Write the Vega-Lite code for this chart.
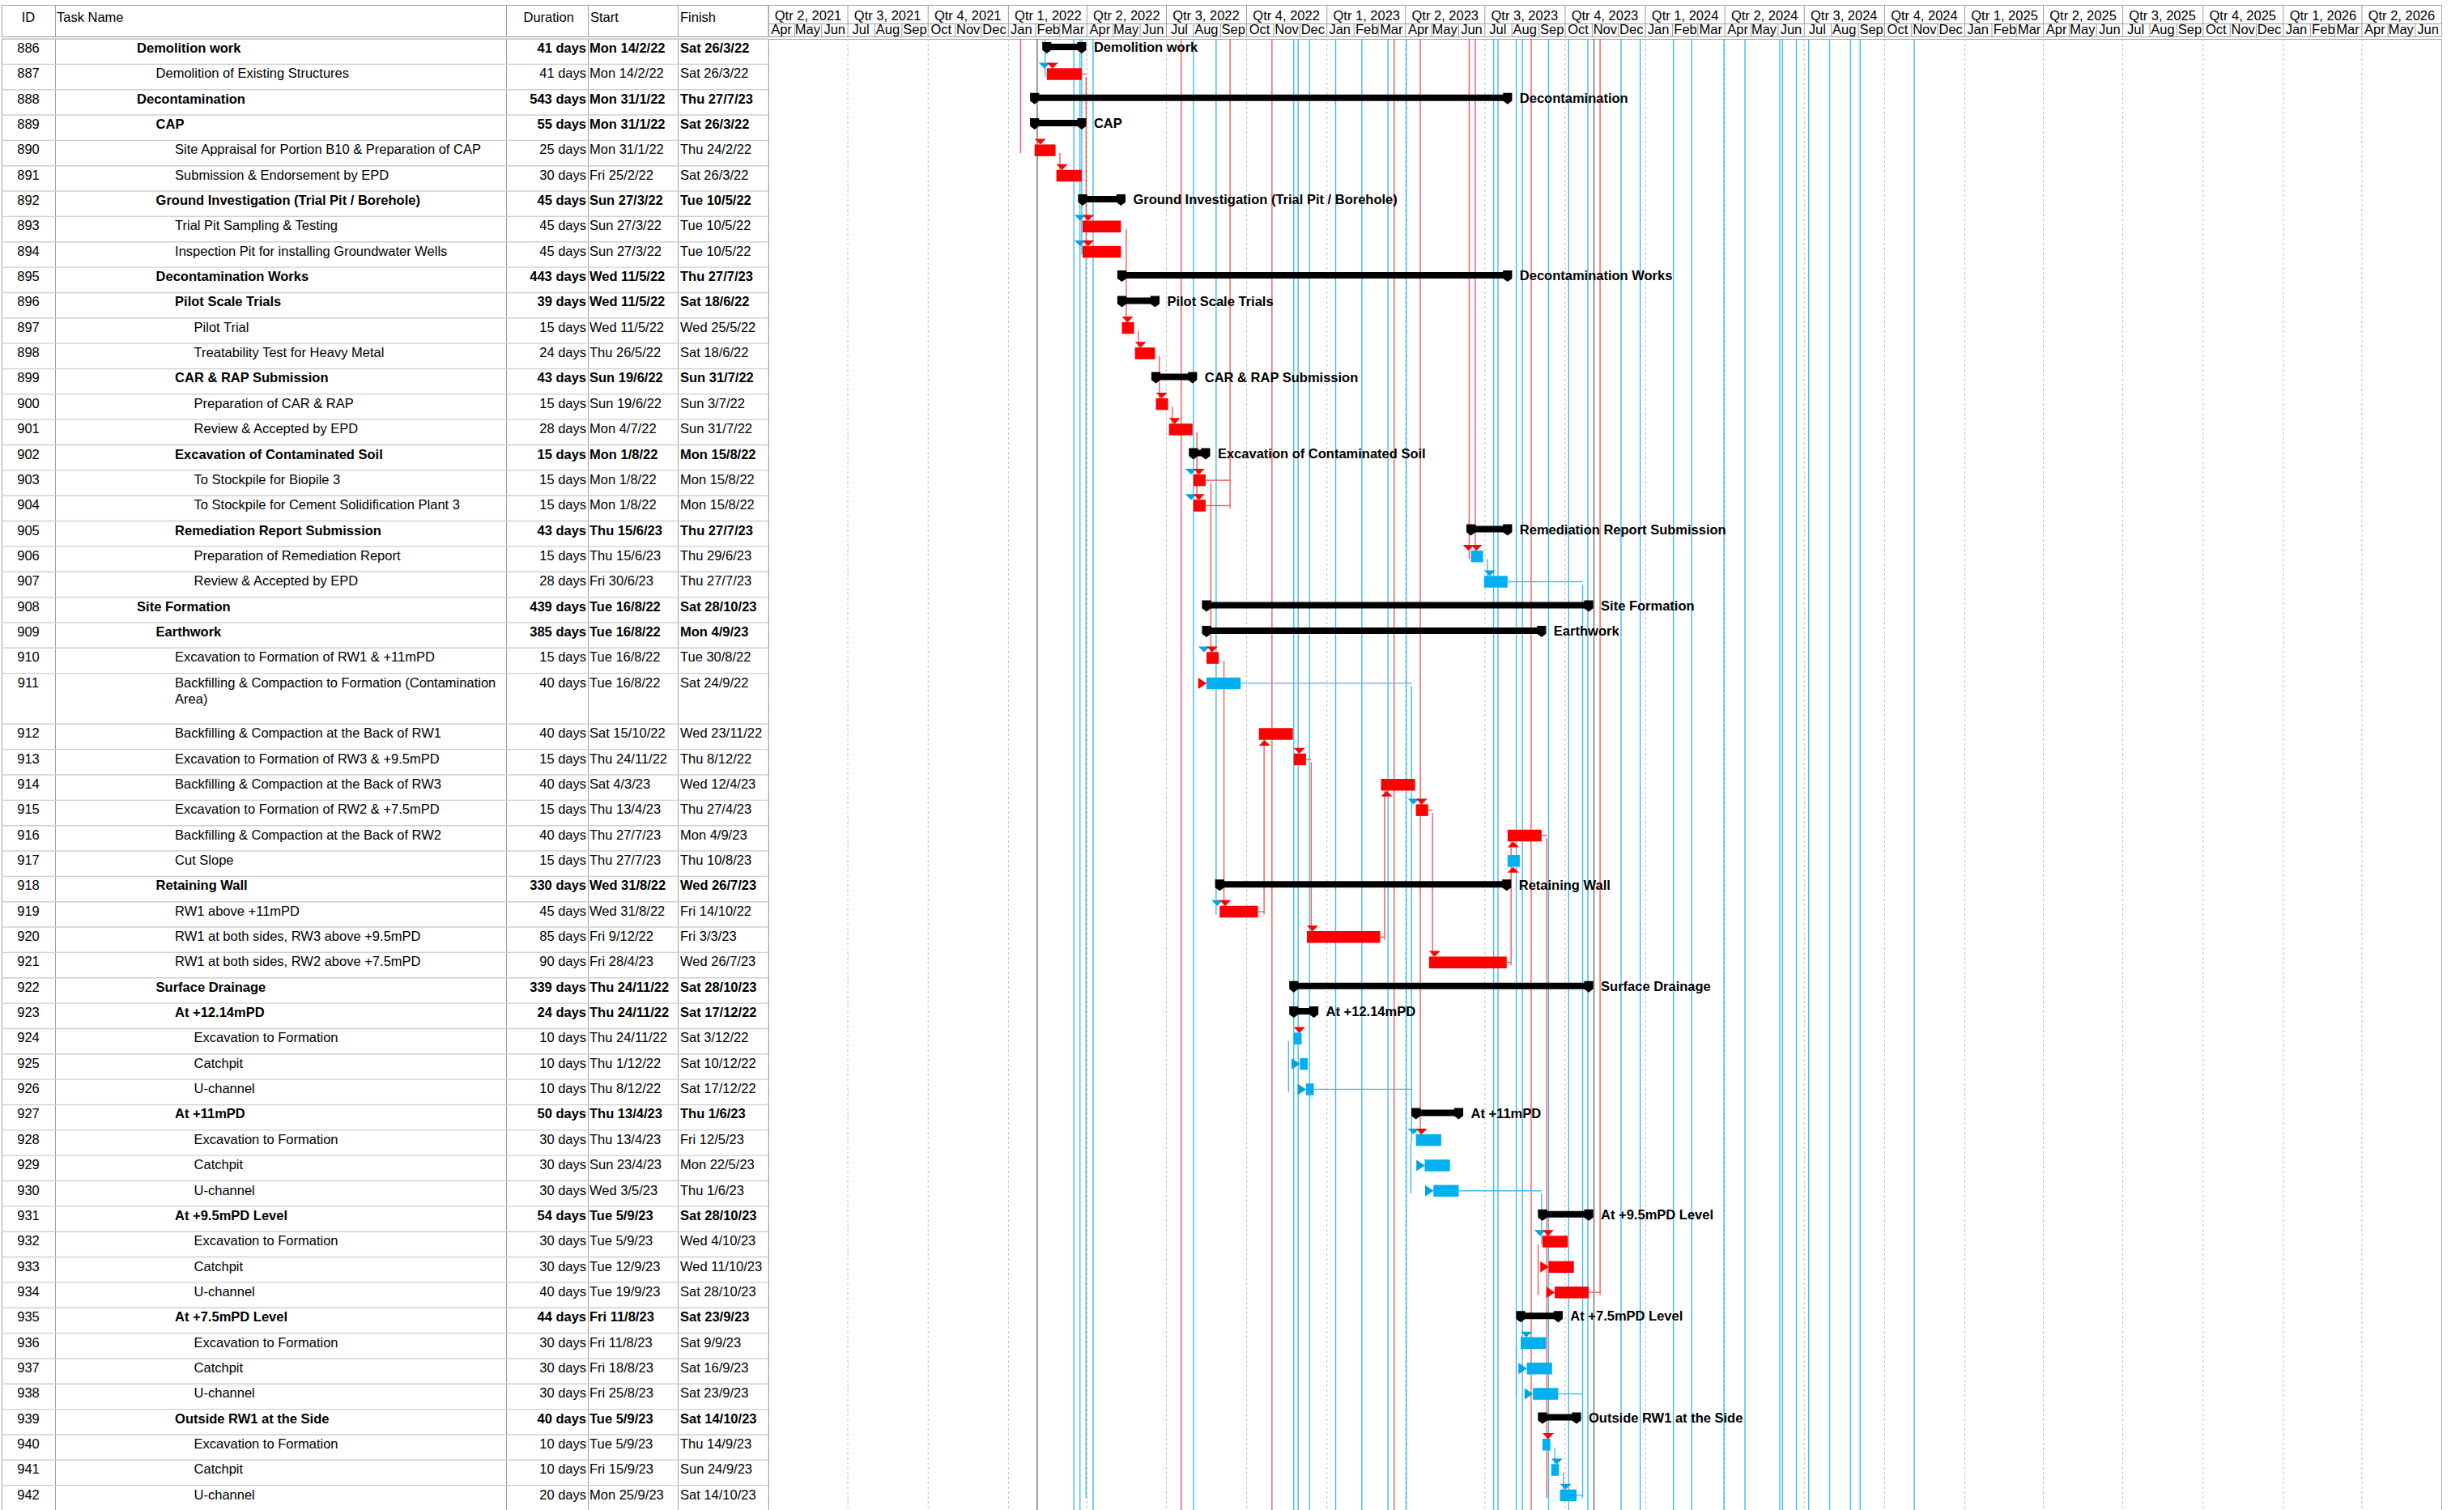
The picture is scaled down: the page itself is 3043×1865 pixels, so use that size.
{
"$schema":"https://vega.github.io/schema/vega-lite/v6.json",
"padding":{"left":0,"top":5,"right":0,"bottom":0},
"background":"#ffffff",
"config":{"view":{"stroke":null},"text":{"font":"Liberation Sans","fontSize":16.5,"color":"#000000"}},
"datasets":{
"tasks":[
{"id":"886","n":"Demolition work","lv":1,"sum":1,"d":"41 days","st":"Mon 14/2/22","ft":"Sat 26/3/22","s":"2022-02-14","f":"2022-03-26","c":"k"},
{"id":"887","n":"Demolition of Existing Structures","lv":2,"sum":0,"d":"41 days","st":"Mon 14/2/22","ft":"Sat 26/3/22","s":"2022-02-14","f":"2022-03-26","c":"r"},
{"id":"888","n":"Decontamination","lv":1,"sum":1,"d":"543 days","st":"Mon 31/1/22","ft":"Thu 27/7/23","s":"2022-01-31","f":"2023-07-27","c":"k"},
{"id":"889","n":"CAP","lv":2,"sum":1,"d":"55 days","st":"Mon 31/1/22","ft":"Sat 26/3/22","s":"2022-01-31","f":"2022-03-26","c":"k"},
{"id":"890","n":"Site Appraisal for Portion B10 & Preparation of CAP","lv":3,"sum":0,"d":"25 days","st":"Mon 31/1/22","ft":"Thu 24/2/22","s":"2022-01-31","f":"2022-02-24","c":"r"},
{"id":"891","n":"Submission & Endorsement by EPD","lv":3,"sum":0,"d":"30 days","st":"Fri 25/2/22","ft":"Sat 26/3/22","s":"2022-02-25","f":"2022-03-26","c":"r"},
{"id":"892","n":"Ground Investigation (Trial Pit / Borehole)","lv":2,"sum":1,"d":"45 days","st":"Sun 27/3/22","ft":"Tue 10/5/22","s":"2022-03-27","f":"2022-05-10","c":"k"},
{"id":"893","n":"Trial Pit Sampling & Testing","lv":3,"sum":0,"d":"45 days","st":"Sun 27/3/22","ft":"Tue 10/5/22","s":"2022-03-27","f":"2022-05-10","c":"r"},
{"id":"894","n":"Inspection Pit for installing Groundwater Wells","lv":3,"sum":0,"d":"45 days","st":"Sun 27/3/22","ft":"Tue 10/5/22","s":"2022-03-27","f":"2022-05-10","c":"r"},
{"id":"895","n":"Decontamination Works","lv":2,"sum":1,"d":"443 days","st":"Wed 11/5/22","ft":"Thu 27/7/23","s":"2022-05-11","f":"2023-07-27","c":"k"},
{"id":"896","n":"Pilot Scale Trials","lv":3,"sum":1,"d":"39 days","st":"Wed 11/5/22","ft":"Sat 18/6/22","s":"2022-05-11","f":"2022-06-18","c":"k"},
{"id":"897","n":"Pilot Trial","lv":4,"sum":0,"d":"15 days","st":"Wed 11/5/22","ft":"Wed 25/5/22","s":"2022-05-11","f":"2022-05-25","c":"r"},
{"id":"898","n":"Treatability Test for Heavy Metal","lv":4,"sum":0,"d":"24 days","st":"Thu 26/5/22","ft":"Sat 18/6/22","s":"2022-05-26","f":"2022-06-18","c":"r"},
{"id":"899","n":"CAR & RAP Submission","lv":3,"sum":1,"d":"43 days","st":"Sun 19/6/22","ft":"Sun 31/7/22","s":"2022-06-19","f":"2022-07-31","c":"k"},
{"id":"900","n":"Preparation of CAR & RAP","lv":4,"sum":0,"d":"15 days","st":"Sun 19/6/22","ft":"Sun 3/7/22","s":"2022-06-19","f":"2022-07-03","c":"r"},
{"id":"901","n":"Review & Accepted by EPD","lv":4,"sum":0,"d":"28 days","st":"Mon 4/7/22","ft":"Sun 31/7/22","s":"2022-07-04","f":"2022-07-31","c":"r"},
{"id":"902","n":"Excavation of Contaminated Soil","lv":3,"sum":1,"d":"15 days","st":"Mon 1/8/22","ft":"Mon 15/8/22","s":"2022-08-01","f":"2022-08-15","c":"k"},
{"id":"903","n":"To Stockpile for Biopile 3","lv":4,"sum":0,"d":"15 days","st":"Mon 1/8/22","ft":"Mon 15/8/22","s":"2022-08-01","f":"2022-08-15","c":"r"},
{"id":"904","n":"To Stockpile for Cement Solidification Plant 3","lv":4,"sum":0,"d":"15 days","st":"Mon 1/8/22","ft":"Mon 15/8/22","s":"2022-08-01","f":"2022-08-15","c":"r"},
{"id":"905","n":"Remediation Report Submission","lv":3,"sum":1,"d":"43 days","st":"Thu 15/6/23","ft":"Thu 27/7/23","s":"2023-06-15","f":"2023-07-27","c":"k"},
{"id":"906","n":"Preparation of Remediation Report","lv":4,"sum":0,"d":"15 days","st":"Thu 15/6/23","ft":"Thu 29/6/23","s":"2023-06-15","f":"2023-06-29","c":"b"},
{"id":"907","n":"Review & Accepted by EPD","lv":4,"sum":0,"d":"28 days","st":"Fri 30/6/23","ft":"Thu 27/7/23","s":"2023-06-30","f":"2023-07-27","c":"b"},
{"id":"908","n":"Site Formation","lv":1,"sum":1,"d":"439 days","st":"Tue 16/8/22","ft":"Sat 28/10/23","s":"2022-08-16","f":"2023-10-28","c":"k"},
{"id":"909","n":"Earthwork","lv":2,"sum":1,"d":"385 days","st":"Tue 16/8/22","ft":"Mon 4/9/23","s":"2022-08-16","f":"2023-09-04","c":"k"},
{"id":"910","n":"Excavation to Formation of RW1 & +11mPD","lv":3,"sum":0,"d":"15 days","st":"Tue 16/8/22","ft":"Tue 30/8/22","s":"2022-08-16","f":"2022-08-30","c":"r"},
{"id":"911","n":"Backfilling & Compaction to Formation (Contamination\nArea)","lv":3,"sum":0,"d":"40 days","st":"Tue 16/8/22","ft":"Sat 24/9/22","s":"2022-08-16","f":"2022-09-24","c":"b"},
{"id":"912","n":"Backfilling & Compaction at the Back of RW1","lv":3,"sum":0,"d":"40 days","st":"Sat 15/10/22","ft":"Wed 23/11/22","s":"2022-10-15","f":"2022-11-23","c":"r"},
{"id":"913","n":"Excavation to Formation of RW3 & +9.5mPD","lv":3,"sum":0,"d":"15 days","st":"Thu 24/11/22","ft":"Thu 8/12/22","s":"2022-11-24","f":"2022-12-08","c":"r"},
{"id":"914","n":"Backfilling & Compaction at the Back of RW3","lv":3,"sum":0,"d":"40 days","st":"Sat 4/3/23","ft":"Wed 12/4/23","s":"2023-03-04","f":"2023-04-12","c":"r"},
{"id":"915","n":"Excavation to Formation of RW2 & +7.5mPD","lv":3,"sum":0,"d":"15 days","st":"Thu 13/4/23","ft":"Thu 27/4/23","s":"2023-04-13","f":"2023-04-27","c":"r"},
{"id":"916","n":"Backfilling & Compaction at the Back of RW2","lv":3,"sum":0,"d":"40 days","st":"Thu 27/7/23","ft":"Mon 4/9/23","s":"2023-07-27","f":"2023-09-04","c":"r"},
{"id":"917","n":"Cut Slope","lv":3,"sum":0,"d":"15 days","st":"Thu 27/7/23","ft":"Thu 10/8/23","s":"2023-07-27","f":"2023-08-10","c":"b"},
{"id":"918","n":"Retaining Wall","lv":2,"sum":1,"d":"330 days","st":"Wed 31/8/22","ft":"Wed 26/7/23","s":"2022-08-31","f":"2023-07-26","c":"k"},
{"id":"919","n":"RW1 above +11mPD","lv":3,"sum":0,"d":"45 days","st":"Wed 31/8/22","ft":"Fri 14/10/22","s":"2022-08-31","f":"2022-10-14","c":"r"},
{"id":"920","n":"RW1 at both sides, RW3 above +9.5mPD","lv":3,"sum":0,"d":"85 days","st":"Fri 9/12/22","ft":"Fri 3/3/23","s":"2022-12-09","f":"2023-03-03","c":"r"},
{"id":"921","n":"RW1 at both sides, RW2 above +7.5mPD","lv":3,"sum":0,"d":"90 days","st":"Fri 28/4/23","ft":"Wed 26/7/23","s":"2023-04-28","f":"2023-07-26","c":"r"},
{"id":"922","n":"Surface Drainage","lv":2,"sum":1,"d":"339 days","st":"Thu 24/11/22","ft":"Sat 28/10/23","s":"2022-11-24","f":"2023-10-28","c":"k"},
{"id":"923","n":"At +12.14mPD","lv":3,"sum":1,"d":"24 days","st":"Thu 24/11/22","ft":"Sat 17/12/22","s":"2022-11-24","f":"2022-12-17","c":"k"},
{"id":"924","n":"Excavation to Formation","lv":4,"sum":0,"d":"10 days","st":"Thu 24/11/22","ft":"Sat 3/12/22","s":"2022-11-24","f":"2022-12-03","c":"b"},
{"id":"925","n":"Catchpit","lv":4,"sum":0,"d":"10 days","st":"Thu 1/12/22","ft":"Sat 10/12/22","s":"2022-12-01","f":"2022-12-10","c":"b"},
{"id":"926","n":"U-channel","lv":4,"sum":0,"d":"10 days","st":"Thu 8/12/22","ft":"Sat 17/12/22","s":"2022-12-08","f":"2022-12-17","c":"b"},
{"id":"927","n":"At +11mPD","lv":3,"sum":1,"d":"50 days","st":"Thu 13/4/23","ft":"Thu 1/6/23","s":"2023-04-13","f":"2023-06-01","c":"k"},
{"id":"928","n":"Excavation to Formation","lv":4,"sum":0,"d":"30 days","st":"Thu 13/4/23","ft":"Fri 12/5/23","s":"2023-04-13","f":"2023-05-12","c":"b"},
{"id":"929","n":"Catchpit","lv":4,"sum":0,"d":"30 days","st":"Sun 23/4/23","ft":"Mon 22/5/23","s":"2023-04-23","f":"2023-05-22","c":"b"},
{"id":"930","n":"U-channel","lv":4,"sum":0,"d":"30 days","st":"Wed 3/5/23","ft":"Thu 1/6/23","s":"2023-05-03","f":"2023-06-01","c":"b"},
{"id":"931","n":"At +9.5mPD Level","lv":3,"sum":1,"d":"54 days","st":"Tue 5/9/23","ft":"Sat 28/10/23","s":"2023-09-05","f":"2023-10-28","c":"k"},
{"id":"932","n":"Excavation to Formation","lv":4,"sum":0,"d":"30 days","st":"Tue 5/9/23","ft":"Wed 4/10/23","s":"2023-09-05","f":"2023-10-04","c":"r"},
{"id":"933","n":"Catchpit","lv":4,"sum":0,"d":"30 days","st":"Tue 12/9/23","ft":"Wed 11/10/23","s":"2023-09-12","f":"2023-10-11","c":"r"},
{"id":"934","n":"U-channel","lv":4,"sum":0,"d":"40 days","st":"Tue 19/9/23","ft":"Sat 28/10/23","s":"2023-09-19","f":"2023-10-28","c":"r"},
{"id":"935","n":"At +7.5mPD Level","lv":3,"sum":1,"d":"44 days","st":"Fri 11/8/23","ft":"Sat 23/9/23","s":"2023-08-11","f":"2023-09-23","c":"k"},
{"id":"936","n":"Excavation to Formation","lv":4,"sum":0,"d":"30 days","st":"Fri 11/8/23","ft":"Sat 9/9/23","s":"2023-08-11","f":"2023-09-09","c":"b"},
{"id":"937","n":"Catchpit","lv":4,"sum":0,"d":"30 days","st":"Fri 18/8/23","ft":"Sat 16/9/23","s":"2023-08-18","f":"2023-09-16","c":"b"},
{"id":"938","n":"U-channel","lv":4,"sum":0,"d":"30 days","st":"Fri 25/8/23","ft":"Sat 23/9/23","s":"2023-08-25","f":"2023-09-23","c":"b"},
{"id":"939","n":"Outside RW1 at the Side","lv":3,"sum":1,"d":"40 days","st":"Tue 5/9/23","ft":"Sat 14/10/23","s":"2023-09-05","f":"2023-10-14","c":"k"},
{"id":"940","n":"Excavation to Formation","lv":4,"sum":0,"d":"10 days","st":"Tue 5/9/23","ft":"Thu 14/9/23","s":"2023-09-05","f":"2023-09-14","c":"b"},
{"id":"941","n":"Catchpit","lv":4,"sum":0,"d":"10 days","st":"Fri 15/9/23","ft":"Sun 24/9/23","s":"2023-09-15","f":"2023-09-24","c":"b"},
{"id":"942","n":"U-channel","lv":4,"sum":0,"d":"20 days","st":"Mon 25/9/23","ft":"Sat 14/10/23","s":"2023-09-25","f":"2023-10-14","c":"b"}
],
"quarters":[
{"q":"Qtr 2, 2021","s":"2021-04-01"},{"q":"Qtr 3, 2021","s":"2021-07-01"},{"q":"Qtr 4, 2021","s":"2021-10-01"},
{"q":"Qtr 1, 2022","s":"2022-01-01"},{"q":"Qtr 2, 2022","s":"2022-04-01"},{"q":"Qtr 3, 2022","s":"2022-07-01"},{"q":"Qtr 4, 2022","s":"2022-10-01"},
{"q":"Qtr 1, 2023","s":"2023-01-01"},{"q":"Qtr 2, 2023","s":"2023-04-01"},{"q":"Qtr 3, 2023","s":"2023-07-01"},{"q":"Qtr 4, 2023","s":"2023-10-01"},
{"q":"Qtr 1, 2024","s":"2024-01-01"},{"q":"Qtr 2, 2024","s":"2024-04-01"},{"q":"Qtr 3, 2024","s":"2024-07-01"},{"q":"Qtr 4, 2024","s":"2024-10-01"},
{"q":"Qtr 1, 2025","s":"2025-01-01"},{"q":"Qtr 2, 2025","s":"2025-04-01"},{"q":"Qtr 3, 2025","s":"2025-07-01"},{"q":"Qtr 4, 2025","s":"2025-10-01"},
{"q":"Qtr 1, 2026","s":"2026-01-01"},{"q":"Qtr 2, 2026","s":"2026-04-01"}
],
"months":[
{"m":"2021-04-01","l":"Apr"},{"m":"2021-05-01","l":"May"},{"m":"2021-06-01","l":"Jun"},{"m":"2021-07-01","l":"Jul"},{"m":"2021-08-01","l":"Aug"},{"m":"2021-09-01","l":"Sep"},{"m":"2021-10-01","l":"Oct"},{"m":"2021-11-01","l":"Nov"},{"m":"2021-12-01","l":"Dec"},
{"m":"2022-01-01","l":"Jan"},{"m":"2022-02-01","l":"Feb"},{"m":"2022-03-01","l":"Mar"},{"m":"2022-04-01","l":"Apr"},{"m":"2022-05-01","l":"May"},{"m":"2022-06-01","l":"Jun"},{"m":"2022-07-01","l":"Jul"},{"m":"2022-08-01","l":"Aug"},{"m":"2022-09-01","l":"Sep"},{"m":"2022-10-01","l":"Oct"},{"m":"2022-11-01","l":"Nov"},{"m":"2022-12-01","l":"Dec"},
{"m":"2023-01-01","l":"Jan"},{"m":"2023-02-01","l":"Feb"},{"m":"2023-03-01","l":"Mar"},{"m":"2023-04-01","l":"Apr"},{"m":"2023-05-01","l":"May"},{"m":"2023-06-01","l":"Jun"},{"m":"2023-07-01","l":"Jul"},{"m":"2023-08-01","l":"Aug"},{"m":"2023-09-01","l":"Sep"},{"m":"2023-10-01","l":"Oct"},{"m":"2023-11-01","l":"Nov"},{"m":"2023-12-01","l":"Dec"},
{"m":"2024-01-01","l":"Jan"},{"m":"2024-02-01","l":"Feb"},{"m":"2024-03-01","l":"Mar"},{"m":"2024-04-01","l":"Apr"},{"m":"2024-05-01","l":"May"},{"m":"2024-06-01","l":"Jun"},{"m":"2024-07-01","l":"Jul"},{"m":"2024-08-01","l":"Aug"},{"m":"2024-09-01","l":"Sep"},{"m":"2024-10-01","l":"Oct"},{"m":"2024-11-01","l":"Nov"},{"m":"2024-12-01","l":"Dec"},
{"m":"2025-01-01","l":"Jan"},{"m":"2025-02-01","l":"Feb"},{"m":"2025-03-01","l":"Mar"},{"m":"2025-04-01","l":"Apr"},{"m":"2025-05-01","l":"May"},{"m":"2025-06-01","l":"Jun"},{"m":"2025-07-01","l":"Jul"},{"m":"2025-08-01","l":"Aug"},{"m":"2025-09-01","l":"Sep"},{"m":"2025-10-01","l":"Oct"},{"m":"2025-11-01","l":"Nov"},{"m":"2025-12-01","l":"Dec"},
{"m":"2026-01-01","l":"Jan"},{"m":"2026-02-01","l":"Feb"},{"m":"2026-03-01","l":"Mar"},{"m":"2026-04-01","l":"Apr"},{"m":"2026-05-01","l":"May"},{"m":"2026-06-01","l":"Jun"}
],
"links":[
{"t":"full","x":"2022-02-03","c":"k"},{"t":"full","x":"2023-11-03","c":"k"},
{"t":"full","x":"2022-07-18","c":"r"},{"t":"full","x":"2022-10-30","c":"r"},{"t":"full","x":"2023-03-19","c":"r"},{"t":"full","x":"2023-08-23","c":"r"},
{"t":"full","x":"2022-03-17","c":"b"},{"t":"full","x":"2022-03-24","c":"b"},{"t":"full","x":"2022-04-08","c":"b"},{"t":"full","x":"2022-08-01","c":"b"},
{"t":"full","x":"2022-11-24","c":"b"},{"t":"full","x":"2022-11-29","c":"b"},{"t":"full","x":"2022-12-12","c":"b"},{"t":"full","x":"2023-01-11","c":"b"},
{"t":"full","x":"2023-02-10","c":"b"},{"t":"full","x":"2023-03-12","c":"b"},{"t":"full","x":"2023-04-02","c":"b"},{"t":"full","x":"2023-07-11","c":"b"},
{"t":"full","x":"2023-07-16","c":"b"},{"t":"full","x":"2023-08-06","c":"b"},{"t":"full","x":"2023-08-13","c":"b"},{"t":"full","x":"2023-09-12","c":"b"},
{"t":"full","x":"2023-10-05","c":"b"},{"t":"full","x":"2023-10-27","c":"b"},{"t":"full","x":"2023-12-04","c":"b"},{"t":"full","x":"2023-12-26","c":"b"},
{"t":"full","x":"2024-02-02","c":"b"},{"t":"full","x":"2024-02-23","c":"b"},{"t":"full","x":"2024-03-31","c":"b"},{"t":"full","x":"2024-04-24","c":"b"},
{"t":"full","x":"2024-06-03","c":"b"},{"t":"full","x":"2024-06-06","c":"b"},{"t":"full","x":"2024-06-22","c":"b"},{"t":"full","x":"2024-07-06","c":"b"},
{"t":"full","x":"2024-07-30","c":"b"},{"t":"full","x":"2024-08-23","c":"b"},{"t":"full","x":"2024-09-03","c":"b"},{"t":"full","x":"2024-11-04","c":"b"},
{"t":"top","x":"2022-01-15","c":"r","b":"890"},{"t":"top","x":"2022-02-12","c":"b","b":"887"},{"t":"top","x":"2022-09-12","c":"r","b":"904"},
{"t":"top","x":"2023-06-13","c":"r","b":"906"},{"t":"top","x":"2023-06-20","c":"r","b":"906"},{"t":"top","x":"2022-08-27","c":"b","b":"919"},
{"t":"top","x":"2023-04-18","c":"r","b":"928"},{"t":"top","x":"2023-11-10","c":"r","b":"934"},{"t":"top","x":"2022-03-26","c":"b","b":"894"},
{"t":"mid","x":"2022-03-31","c":"r","a":"887","b":"894"},{"t":"mid","x":"2022-05-16","c":"r","a":"893","b":"897"},
{"t":"mid","x":"2022-09-05","c":"r","a":"910","b":"919"},{"t":"mid","x":"2022-10-21","c":"r","a":"912","b":"919"},
{"t":"mid","x":"2022-12-14","c":"r","a":"913","b":"920"},{"t":"mid","x":"2023-03-08","c":"r","a":"914","b":"920"},
{"t":"mid","x":"2023-05-02","c":"r","a":"915","b":"921"},{"t":"mid","x":"2023-07-31","c":"r","a":"916","b":"921"},
{"t":"mid","x":"2023-09-10","c":"r","a":"916","b":"942"},{"t":"mid","x":"2023-04-08","c":"b","a":"911","b":"928"},
{"t":"mid","x":"2023-10-21","c":"b","a":"907","b":"942"},{"t":"mid","x":"2022-03-31","c":"b","a":"894","b":"942"},
{"t":"mid","x":"2023-09-04","c":"b","a":"930","b":"932"},{"t":"mid","x":"2022-03-01","c":"r","a":"890","b":"891"},
{"t":"mid","x":"2022-05-30","c":"r","a":"897","b":"898"},{"t":"mid","x":"2022-06-23","c":"r","a":"898","b":"900"},
{"t":"mid","x":"2022-07-08","c":"r","a":"900","b":"901"},{"t":"mid","x":"2022-08-05","c":"r","a":"901","b":"904"},
{"t":"mid","x":"2022-08-21","c":"r","a":"903","b":"910"},{"t":"mid","x":"2023-07-04","c":"b","a":"906","b":"907"},
{"t":"mid","x":"2023-09-19","c":"b","a":"940","b":"941"},{"t":"mid","x":"2023-09-29","c":"b","a":"941","b":"942"},
{"t":"mid","x":"2022-11-18","c":"b","a":"924","b":"926"},{"t":"mid","x":"2023-04-07","c":"b","a":"928","b":"930"},
{"t":"mid","x":"2023-08-31","c":"r","a":"932","b":"934"},{"t":"mid","x":"2023-08-06","c":"b","a":"936","b":"938"}
],
"hlinks":[
{"a":"911","x1":"2022-09-24","x2":"2023-04-08","c":"b"},{"a":"907","x1":"2023-07-27","x2":"2023-10-21","c":"b"},
{"a":"926","x1":"2022-12-17","x2":"2023-04-08","c":"b"},{"a":"930","x1":"2023-06-01","x2":"2023-09-04","c":"b"},
{"a":"903","x1":"2022-08-15","x2":"2022-09-12","c":"r"},{"a":"904","x1":"2022-08-15","x2":"2022-09-12","c":"r"},
{"a":"938","x1":"2023-09-23","x2":"2023-10-21","c":"b"},{"a":"919","x1":"2022-10-14","x2":"2022-10-21","c":"r"},
{"a":"920","x1":"2023-03-03","x2":"2023-03-08","c":"r"},{"a":"921","x1":"2023-07-26","x2":"2023-07-31","c":"r"},
{"a":"887","x1":"2022-03-26","x2":"2022-03-31","c":"r"},{"a":"913","x1":"2022-12-08","x2":"2022-12-14","c":"r"},
{"a":"915","x1":"2023-04-27","x2":"2023-05-02","c":"r"},{"a":"916","x1":"2023-09-04","x2":"2023-09-10","c":"r"},
{"a":"934","x1":"2023-10-28","x2":"2023-11-10","c":"r"},{"a":"942","x1":"2023-10-14","x2":"2023-10-21","c":"b"}
],
"arrows":[
{"id":"887","d":"dl","c":"b"},{"id":"887","d":"dn","c":"r"},{"id":"890","d":"dn","c":"r"},{"id":"891","d":"dn","c":"r"},
{"id":"893","d":"dl","c":"b"},{"id":"893","d":"dn","c":"r"},{"id":"894","d":"dl","c":"b"},{"id":"894","d":"dn","c":"r"},
{"id":"897","d":"dn","c":"r"},{"id":"898","d":"dn","c":"r"},{"id":"900","d":"dn","c":"r"},{"id":"901","d":"dn","c":"r"},
{"id":"903","d":"dl","c":"b"},{"id":"903","d":"dn","c":"r"},{"id":"904","d":"dl","c":"b"},{"id":"904","d":"dn","c":"r"},
{"id":"906","d":"dl","c":"r"},{"id":"906","d":"dn","c":"r"},{"id":"907","d":"dn","c":"b"},
{"id":"910","d":"dl","c":"b"},{"id":"910","d":"dn","c":"r"},{"id":"911","d":"rt","c":"r"},{"id":"912","d":"up","c":"r"},
{"id":"913","d":"dn","c":"r"},{"id":"914","d":"up","c":"r"},{"id":"915","d":"dl","c":"b"},{"id":"915","d":"dn","c":"r"},
{"id":"916","d":"up","c":"r"},{"id":"917","d":"up","c":"r"},{"id":"919","d":"dl","c":"b"},{"id":"919","d":"dn","c":"r"},
{"id":"920","d":"dn","c":"r"},{"id":"921","d":"dn","c":"r"},{"id":"924","d":"dn","c":"r"},{"id":"925","d":"rt","c":"b"},
{"id":"926","d":"rt","c":"b"},{"id":"928","d":"dl","c":"b"},{"id":"928","d":"dn","c":"r"},{"id":"929","d":"rt","c":"b"},
{"id":"930","d":"rt","c":"b"},{"id":"932","d":"dl","c":"b"},{"id":"932","d":"dn","c":"r"},{"id":"933","d":"rt","c":"r"},
{"id":"934","d":"rt","c":"r"},{"id":"936","d":"dn","c":"b"},{"id":"937","d":"rt","c":"b"},{"id":"938","d":"rt","c":"b"},
{"id":"940","d":"dn","c":"r"},{"id":"941","d":"dn","c":"b"},{"id":"942","d":"dn","c":"b"}
]
},
"spacing":0,
"vconcat":[
{"spacing":0,"bounds":"flush","hconcat":[
{"width":66,"height":39,"view":{"stroke":"#9e9e9e"},"data":{"values":[{}]},"mark":{"type":"text","text":"ID","dy":-4}},
{"width":557,"height":39,"view":{"stroke":"#9e9e9e"},"data":{"values":[{}]},"mark":{"type":"text","text":"Task Name","align":"left","dx":-276.5,"dy":-4}},
{"width":101,"height":39,"view":{"stroke":"#9e9e9e"},"data":{"values":[{}]},"mark":{"type":"text","text":"Duration","align":"left","dx":-29,"dy":-4}},
{"width":111,"height":39,"view":{"stroke":"#9e9e9e"},"data":{"values":[{}]},"mark":{"type":"text","text":"Start","align":"left","dx":-52.5,"dy":-4}},
{"width":112,"height":39,"view":{"stroke":"#9e9e9e"},"data":{"values":[{}]},"mark":{"type":"text","text":"Finish","align":"left","dx":-53,"dy":-4}},
{"spacing":0,"bounds":"flush","vconcat":[
{"width":2066,"height":23,"view":{"stroke":"#9e9e9e"},"data":{"name":"quarters"},"layer":[
{"mark":{"type":"rule","stroke":"#9e9e9e"},"encoding":{"x":{"field":"s","type":"temporal","axis":null,"scale":{"type":"utc","nice":false,"domain":[{"year":2021,"month":4,"date":1,"utc":true},{"year":2026,"month":7,"date":1,"utc":true}]}}}},
{"mark":{"type":"text","dx":49,"dy":2},"encoding":{"x":{"field":"s","type":"temporal","axis":null,"scale":{"type":"utc","nice":false,"domain":[{"year":2021,"month":4,"date":1,"utc":true},{"year":2026,"month":7,"date":1,"utc":true}]}},"text":{"field":"q"}}}
]},
{"width":2066,"height":16,"view":{"stroke":"#9e9e9e"},"data":{"name":"months"},"layer":[
{"mark":{"type":"rule","stroke":"#9e9e9e"},"encoding":{"x":{"field":"m","type":"temporal","axis":null,"scale":{"type":"utc","nice":false,"domain":[{"year":2021,"month":4,"date":1,"utc":true},{"year":2026,"month":7,"date":1,"utc":true}]}}}},
{"mark":{"type":"text","dx":16,"dy":0},"encoding":{"x":{"field":"m","type":"temporal","axis":null,"scale":{"type":"utc","nice":false,"domain":[{"year":2021,"month":4,"date":1,"utc":true},{"year":2026,"month":7,"date":1,"utc":true}]}},"text":{"field":"l"}}}
]}
]}
]},
{"spacing":0,"bounds":"flush","hconcat":[
{"width":66,"height":1818,"view":{"stroke":"#9e9e9e"},"data":{"name":"tasks"},"encoding":{"y":{"field":"id","type":"ordinal","bandPosition":0,"axis":null,"scale":{"type":"band","paddingInner":0,"paddingOuter":0,"domain":["886","887","888","889","890","891","892","893","894","895","896","897","898","899","900","901","902","903","904","905","906","907","908","909","910","911","911b","912","913","914","915","916","917","918","919","920","921","922","923","924","925","926","927","928","929","930","931","932","933","934","935","936","937","938","939","940","941","942"]}}},"layer":[
{"mark":{"type":"rule","stroke":"#d0d0d0","strokeWidth":1.4}},
{"mark":{"type":"text","baseline":"top","dy":4,"align":"center"},"encoding":{"text":{"field":"id"}}}
]},
{"width":557,"height":1818,"view":{"stroke":"#9e9e9e"},"data":{"name":"tasks"},"encoding":{"y":{"field":"id","type":"ordinal","bandPosition":0,"axis":null,"scale":{"type":"band","paddingInner":0,"paddingOuter":0,"domain":["886","887","888","889","890","891","892","893","894","895","896","897","898","899","900","901","902","903","904","905","906","907","908","909","910","911","911b","912","913","914","915","916","917","918","919","920","921","922","923","924","925","926","927","928","929","930","931","932","933","934","935","936","937","938","939","940","941","942"]}}},"layer":[
{"mark":{"type":"rule","stroke":"#d0d0d0","strokeWidth":1.4}},
{"transform":[{"filter":"datum.sum == 0"}],"mark":{"type":"text","baseline":"top","dy":4,"align":"left","lineBreak":"\n","lineHeight":20},"encoding":{"x":{"field":"lv","type":"quantitative","axis":null,"scale":{"domain":[-3.3,20.4],"nice":false,"zero":false}},"text":{"field":"n"}}},
{"transform":[{"filter":"datum.sum == 1"}],"mark":{"type":"text","baseline":"top","dy":4,"align":"left","fontWeight":"bold"},"encoding":{"x":{"field":"lv","type":"quantitative","axis":null,"scale":{"domain":[-3.3,20.4],"nice":false,"zero":false}},"text":{"field":"n"}}}
]},
{"width":101,"height":1818,"view":{"stroke":"#9e9e9e"},"data":{"name":"tasks"},"encoding":{"y":{"field":"id","type":"ordinal","bandPosition":0,"axis":null,"scale":{"type":"band","paddingInner":0,"paddingOuter":0,"domain":["886","887","888","889","890","891","892","893","894","895","896","897","898","899","900","901","902","903","904","905","906","907","908","909","910","911","911b","912","913","914","915","916","917","918","919","920","921","922","923","924","925","926","927","928","929","930","931","932","933","934","935","936","937","938","939","940","941","942"]}}},"layer":[
{"mark":{"type":"rule","stroke":"#d0d0d0","strokeWidth":1.4}},
{"transform":[{"filter":"datum.sum == 0"}],"mark":{"type":"text","baseline":"top","dy":4,"align":"right","dx":48.5},"encoding":{"text":{"field":"d"}}},
{"transform":[{"filter":"datum.sum == 1"}],"mark":{"type":"text","baseline":"top","dy":4,"align":"right","dx":48.5,"fontWeight":"bold"},"encoding":{"text":{"field":"d"}}}
]},
{"width":111,"height":1818,"view":{"stroke":"#9e9e9e"},"data":{"name":"tasks"},"encoding":{"y":{"field":"id","type":"ordinal","bandPosition":0,"axis":null,"scale":{"type":"band","paddingInner":0,"paddingOuter":0,"domain":["886","887","888","889","890","891","892","893","894","895","896","897","898","899","900","901","902","903","904","905","906","907","908","909","910","911","911b","912","913","914","915","916","917","918","919","920","921","922","923","924","925","926","927","928","929","930","931","932","933","934","935","936","937","938","939","940","941","942"]}}},"layer":[
{"mark":{"type":"rule","stroke":"#d0d0d0","strokeWidth":1.4}},
{"transform":[{"filter":"datum.sum == 0"}],"mark":{"type":"text","baseline":"top","dy":4,"align":"left","dx":-53.5},"encoding":{"text":{"field":"st"}}},
{"transform":[{"filter":"datum.sum == 1"}],"mark":{"type":"text","baseline":"top","dy":4,"align":"left","dx":-53.5,"fontWeight":"bold"},"encoding":{"text":{"field":"st"}}}
]},
{"width":112,"height":1818,"view":{"stroke":"#9e9e9e"},"data":{"name":"tasks"},"encoding":{"y":{"field":"id","type":"ordinal","bandPosition":0,"axis":null,"scale":{"type":"band","paddingInner":0,"paddingOuter":0,"domain":["886","887","888","889","890","891","892","893","894","895","896","897","898","899","900","901","902","903","904","905","906","907","908","909","910","911","911b","912","913","914","915","916","917","918","919","920","921","922","923","924","925","926","927","928","929","930","931","932","933","934","935","936","937","938","939","940","941","942"]}}},"layer":[
{"mark":{"type":"rule","stroke":"#d0d0d0","strokeWidth":1.4}},
{"transform":[{"filter":"datum.sum == 0"}],"mark":{"type":"text","baseline":"top","dy":4,"align":"left","dx":-53},"encoding":{"text":{"field":"ft"}}},
{"transform":[{"filter":"datum.sum == 1"}],"mark":{"type":"text","baseline":"top","dy":4,"align":"left","dx":-53,"fontWeight":"bold"},"encoding":{"text":{"field":"ft"}}}
]},
{"width":2066,"height":1818,"view":{"stroke":"#9e9e9e"},
"encoding":{
"y":{"field":"id","type":"ordinal","axis":null,"scale":{"type":"band","paddingInner":0,"paddingOuter":0,"domain":["886","887","888","889","890","891","892","893","894","895","896","897","898","899","900","901","902","903","904","905","906","907","908","909","910","911","911b","912","913","914","915","916","917","918","919","920","921","922","923","924","925","926","927","928","929","930","931","932","933","934","935","936","937","938","939","940","941","942"]}}
},
"layer":[
{"data":{"name":"quarters"},"mark":{"type":"rule","stroke":"#bdbdbd","strokeDash":[3,3]},"encoding":{"y":null,"x":{"field":"s","type":"temporal","axis":null,"scale":{"type":"utc","nice":false,"domain":[{"year":2021,"month":4,"date":1,"utc":true},{"year":2026,"month":7,"date":1,"utc":true}]}}}},
{"data":{"name":"links"},"transform":[{"filter":"datum.t == 'full'"}],"mark":{"type":"rule","strokeWidth":1.4},"encoding":{"y":null,"x":{"field":"x","type":"temporal"},"stroke":{"field":"c","type":"nominal","legend":null,"scale":{"domain":["r","b","k"],"range":["#f25a5a","#45bbe8","#6e6e6e"]}}}},
{"data":{"name":"links"},"transform":[{"filter":"datum.t == 'top'"}],"mark":{"type":"rule","strokeWidth":1.4},"encoding":{"y":{"field":"b","type":"ordinal"},"y2":{"value":0},"x":{"field":"x","type":"temporal"},"stroke":{"field":"c","type":"nominal","legend":null}}},
{"data":{"name":"links"},"transform":[{"filter":"datum.t == 'mid'"}],"mark":{"type":"rule","strokeWidth":1.4},"encoding":{"y":{"field":"a","type":"ordinal"},"y2":{"field":"b"},"x":{"field":"x","type":"temporal"},"stroke":{"field":"c","type":"nominal","legend":null}}},
{"data":{"name":"hlinks"},"mark":{"type":"rule","strokeWidth":1.4,"yOffset":-3.4},"encoding":{"y":{"field":"a","type":"ordinal"},"x":{"field":"x1","type":"temporal"},"x2":{"field":"x2"},"stroke":{"field":"c","type":"nominal","legend":null}}},
{"data":{"name":"tasks"},"transform":[{"filter":"datum.sum == 1"}],"mark":{"type":"bar","height":8,"yOffset":-5.7,"color":"#000000"},"encoding":{"x":{"field":"s","type":"temporal"},"x2":{"field":"f"}}},
{"data":{"name":"tasks"},"transform":[{"filter":"datum.sum == 1"}],"mark":{"type":"point","shape":"M-0.8,-1L0.8,-1L0.8,0.4L0,1L-0.8,0.4Z","size":196,"filled":true,"opacity":1,"color":"#000000","yOffset":-4.7},"encoding":{"x":{"field":"s","type":"temporal"}}},
{"data":{"name":"tasks"},"transform":[{"filter":"datum.sum == 1"}],"mark":{"type":"point","shape":"M-0.8,-1L0.8,-1L0.8,0.4L0,1L-0.8,0.4Z","size":196,"filled":true,"opacity":1,"color":"#000000","yOffset":-4.7},"encoding":{"x":{"field":"f","type":"temporal"}}},
{"data":{"name":"tasks"},"transform":[{"filter":"datum.sum == 0"}],"mark":{"type":"bar","height":14.5,"yOffset":-3.4},"encoding":{"x":{"field":"s","type":"temporal"},"x2":{"field":"f"},"color":{"field":"c","type":"nominal","legend":null,"scale":{"domain":["r","b"],"range":["#ff0000","#00b0f0"]}}}},
{"data":{"name":"arrows"},"transform":[{"lookup":"id","from":{"data":{"name":"tasks"},"key":"id","fields":["s"]}},{"filter":"datum.d == 'dl'"}],"mark":{"type":"point","shape":"M-1,-0.5L1,-0.5L0,0.5Z","size":200,"filled":true,"opacity":1,"xOffset":-3,"yOffset":-14},"encoding":{"x":{"field":"s","type":"temporal"},"fill":{"field":"c","type":"nominal","legend":null,"scale":{"domain":["r","b"],"range":["#ff0000","#00a2e0"]}}}},
{"data":{"name":"arrows"},"transform":[{"lookup":"id","from":{"data":{"name":"tasks"},"key":"id","fields":["s"]}},{"filter":"datum.d == 'dn'"}],"mark":{"type":"point","shape":"M-1,-0.5L1,-0.5L0,0.5Z","size":200,"filled":true,"opacity":1,"xOffset":7,"yOffset":-14},"encoding":{"x":{"field":"s","type":"temporal"},"fill":{"field":"c","type":"nominal","legend":null}}},
{"data":{"name":"arrows"},"transform":[{"lookup":"id","from":{"data":{"name":"tasks"},"key":"id","fields":["s"]}},{"filter":"datum.d == 'up'"}],"mark":{"type":"point","shape":"M-1,0.5L1,0.5L0,-0.5Z","size":200,"filled":true,"opacity":1,"xOffset":7,"yOffset":7.5},"encoding":{"x":{"field":"s","type":"temporal"},"fill":{"field":"c","type":"nominal","legend":null}}},
{"data":{"name":"arrows"},"transform":[{"lookup":"id","from":{"data":{"name":"tasks"},"key":"id","fields":["s"]}},{"filter":"datum.d == 'rt'"}],"mark":{"type":"point","shape":"M-0.75,-1L0.75,0L-0.75,1Z","size":196,"filled":true,"opacity":1,"xOffset":-5,"yOffset":-3.4},"encoding":{"x":{"field":"s","type":"temporal"},"fill":{"field":"c","type":"nominal","legend":null}}},
{"data":{"name":"tasks"},"transform":[{"filter":"datum.sum == 1"}],"mark":{"type":"text","align":"left","baseline":"middle","dx":15,"yOffset":-4.5,"fontWeight":"bold"},"encoding":{"x":{"field":"f","type":"temporal"},"text":{"field":"n"}}}
]}
]}
]
}
